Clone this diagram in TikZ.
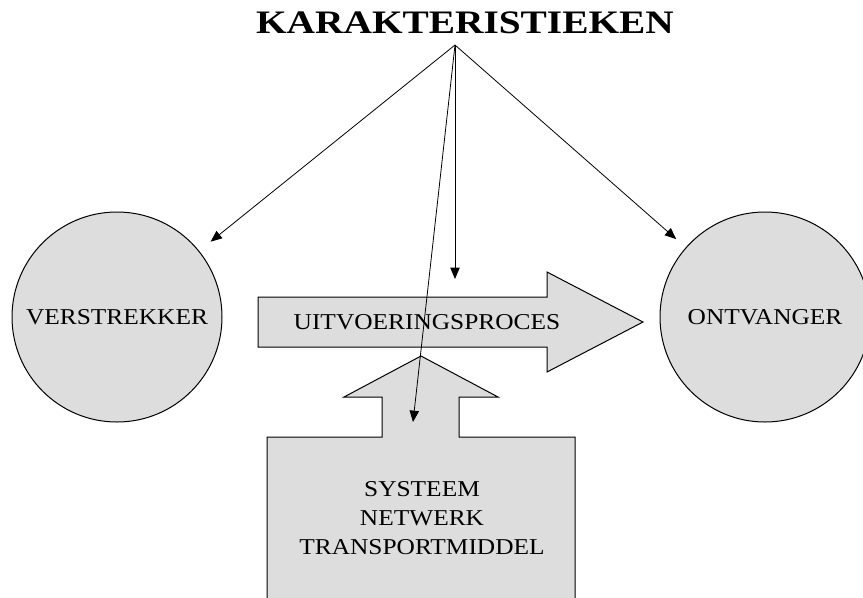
\documentclass[tikz,border=0pt]{standalone}
\usepackage{fontspec}
\setmainfont[FakeStretch=1.12]{Liberation Serif}
\newfontfamily\titlefont[FakeStretch=1.2]{Liberation Serif}
\usetikzlibrary{arrows.meta}
\definecolor{shapegray}{RGB}{221,221,221}

\begin{document}
\begin{tikzpicture}[x=0.75pt,y=0.75pt,yscale=-1,xscale=1,
  shapeline/.style={draw=black,line width=0.75,fill=shapegray},
  pointer/.style={draw=black,line width=0.6,-{Triangle[length=8.5pt,width=7pt]}},
  bodytext/.style={inner sep=0.75pt,font=\fontsize{17}{22}\selectfont,align=center}]
\useasboundingbox (0,0) rectangle (863,597);

%Shape: Circle [id:verstrekker]
\node (verstrekker) [circle,shapeline,minimum size=157.5pt,bodytext] at (117,317) {VERSTREKKER};
%Shape: Circle [id:ontvanger]
\node (ontvanger) [circle,shapeline,minimum size=157.5pt,bodytext] at (765,317) {ONTVANGER};

%Right Arrow [id:proces]
\draw [shapeline] (258,297) -- (547,297) -- (547,272) -- (643,322) -- (547,372) -- (547,347) -- (258,347) -- cycle ;
%Up Arrow with block [id:systeem]
\draw [shapeline] (421,356) -- (498,397) -- (459,397) -- (459,437) -- (575,437) -- (575,612) -- (267,612) -- (267,437) -- (382,437) -- (382,397) -- (344,397) -- cycle ;

% Text Node
\node (titel) [anchor=base,inner sep=0.75pt,font=\titlefont\bfseries\fontsize{24.6}{28}\selectfont] at (465,33.3) {KARAKTERISTIEKEN};
% Text Node
\node (proces) [bodytext] at (427,322) {UITVOERINGSPROCES};
% Text Node
\node (systeem) [bodytext] at (422,518) {SYSTEEM\\NETWERK\\TRANSPORTMIDDEL};

\coordinate (apex) at (455,45);
\coordinate (procesTip) at (455,279);
\coordinate (systeemTip) at (413,422);

%Straight Lines
\draw [pointer,shorten >=11pt] (apex) -- (verstrekker) ;
\draw [pointer,shorten >=9.5pt] (apex) -- (ontvanger) ;
\draw [pointer] (apex) -- (procesTip) ;
\draw [pointer] (apex) -- (systeemTip) ;

\end{tikzpicture}
\end{document}
